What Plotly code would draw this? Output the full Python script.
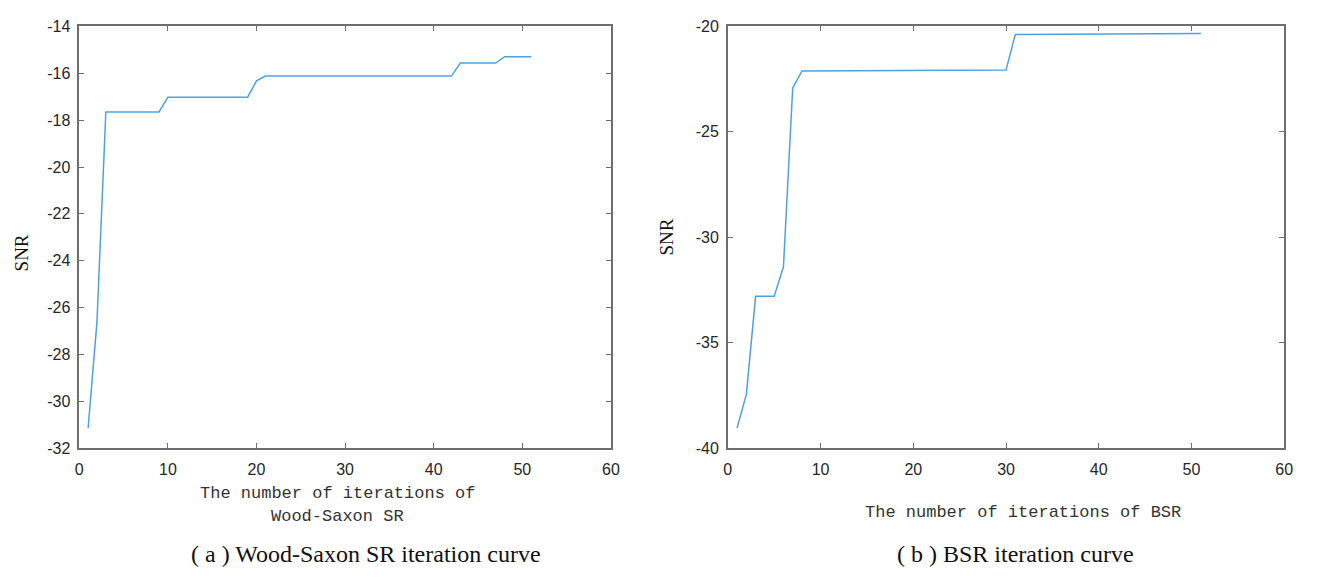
import plotly.graph_objects as go

W, H = 1318, 579

# Wood-Saxon SR: SNR at each iteration breakpoint
ws_iter = [1, 1.5, 2, 3, 9, 10, 19, 20, 21, 42, 43, 47, 48, 51]
ws_snr = [-31.15, -28.7, -26.6, -17.65, -17.65, -17.02, -17.02, -16.32,
          -16.12, -16.12, -15.56, -15.56, -15.29, -15.29]

# BSR: SNR at each iteration breakpoint
bsr_iter = [1, 2, 3, 5, 6, 7, 8, 20, 30, 31, 40, 51]
bsr_snr = [-39.05, -37.45, -32.8, -32.8, -31.4, -22.92, -22.11, -22.1,
           -22.07, -20.38, -20.36, -20.33]

x_ticks = [0, 10, 20, 30, 40, 50, 60]
ws_y_ticks = [-32, -30, -28, -26, -24, -22, -20, -18, -16, -14]
bsr_y_ticks = [-40, -35, -30, -25, -20]

LINE = "#4da2de"
AXIS = "#6e6e6e"
TICKFONT = dict(family="Liberation Sans, Arial, sans-serif", size=16, color="#262626")


def px(x):
    return x / W


def py(y):
    return 1 - y / H


def labels(vals):
    # plain hyphen-minus for negative tick labels
    return [str(v) for v in vals]


fig = go.Figure()
fig.add_trace(go.Scatter(x=ws_iter, y=ws_snr, mode="lines",
                         line=dict(color=LINE, width=1.5),
                         xaxis="x", yaxis="y", showlegend=False))
fig.add_trace(go.Scatter(x=bsr_iter, y=bsr_snr, mode="lines",
                         line=dict(color=LINE, width=1.5),
                         xaxis="x2", yaxis="y2", showlegend=False))

axis_common = dict(showgrid=False, zeroline=False, showline=True,
                   linecolor=AXIS, linewidth=1.5, mirror="ticks",
                   ticks="inside", ticklen=5, tickwidth=1, tickcolor=AXIS,
                   tickfont=TICKFONT)

ydom = [py(453.5), py(19)]
fig.update_layout(
    width=W, height=H, autosize=False,
    margin=dict(l=0, r=0, t=0, b=0),
    paper_bgcolor="white", plot_bgcolor="white",
    xaxis=dict(domain=[px(76), px(613)], range=[0, 60], tickvals=x_ticks,
               ticktext=labels(x_ticks),
               anchor="y", ticklabelstandoff=6, **axis_common),
    yaxis=dict(domain=ydom, range=[-32, -14], tickvals=ws_y_ticks,
               ticktext=labels(ws_y_ticks),
               anchor="x", ticklabelstandoff=4, **axis_common),
    xaxis2=dict(domain=[px(731), px(1293)], range=[0, 60], tickvals=x_ticks,
                ticktext=labels(x_ticks),
                anchor="y2", ticklabelstandoff=6, **axis_common),
    yaxis2=dict(domain=ydom, range=[-40, -20], tickvals=bsr_y_ticks,
                ticktext=labels(bsr_y_ticks),
                anchor="x2", ticklabelstandoff=4, **axis_common),
)

MONO = dict(family="Liberation Mono, monospace", size=17, color="#333333")
SERIF = dict(family="Liberation Serif, Times New Roman, serif", color="#111111")

texts = [
    # axis titles
    dict(x=337, y=500, text="The number of iterations of", font=MONO),
    dict(x=337, y=524, text="Wood-Saxon SR", font=MONO),
    dict(x=1029, y=520, text="The number of iterations of BSR", font=MONO),
    dict(x=18, y=252, text="SNR", font=dict(size=19, **SERIF), textangle=-90),
    dict(x=669, y=236, text="SNR", font=dict(size=19, **SERIF), textangle=-90),
    # captions
    dict(x=366, y=563, text="( a ) Wood-Saxon SR iteration curve",
         font=dict(size=24, **SERIF)),
    dict(x=1022, y=563, text="( b ) BSR iteration curve",
         font=dict(size=24, **SERIF)),
]
for t in texts:
    fig.add_annotation(xref="paper", yref="paper", x=px(t["x"]), y=py(t["y"]),
                       text=t["text"], showarrow=False, font=t["font"],
                       textangle=t.get("textangle", 0),
                       xanchor="center", yanchor="middle")

fig.write_html("out.html", config={"responsive": False})
